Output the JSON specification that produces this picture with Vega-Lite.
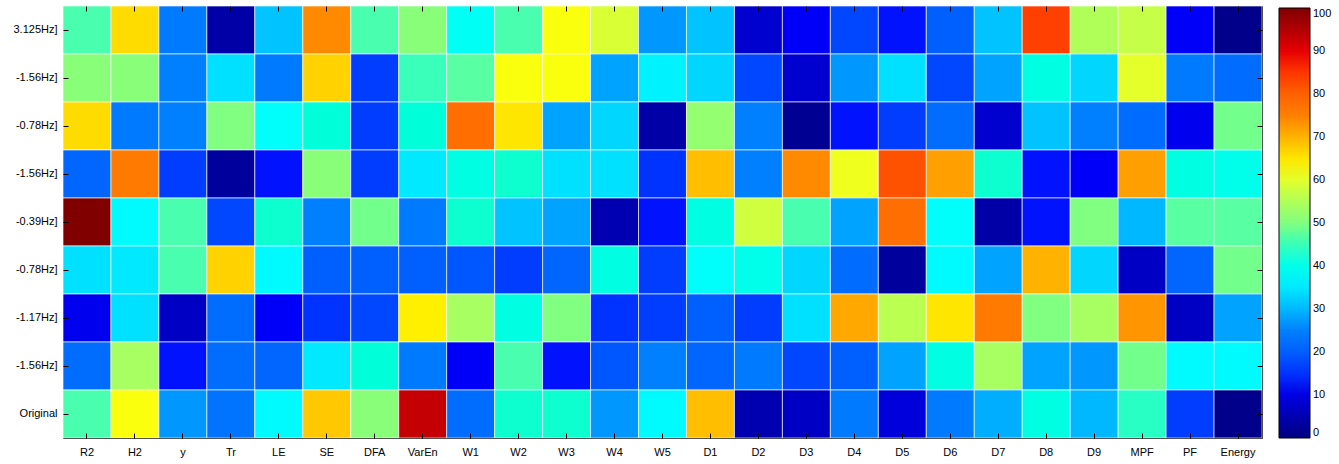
{
  "$schema": "https://vega.github.io/schema/vega-lite/v6.json",
  "width": 1199,
  "height": 432,
  "autosize": {"type": "none"},
  "padding": {"left": 63, "top": 6, "right": 77, "bottom": 26},
  "background": "white",
  "config": {
    "view": {"stroke": "black", "strokeWidth": 1},
    "font": "Liberation Sans",
    "axis": {"grid": false, "domain": false, "labelFont": "Liberation Sans", "labelFontSize": 11, "labelColor": "black", "tickColor": "black", "title": null}
  },
  "data": {
    "values": [
      {"r":1,"c":"R2","v":46},{"r":1,"c":"H2","v":66},{"r":1,"c":"y","v":24},{"r":1,"c":"Tr","v":4},{"r":1,"c":"LE","v":31},{"r":1,"c":"SE","v":74},{"r":1,"c":"DFA","v":46},{"r":1,"c":"VarEn","v":51},{"r":1,"c":"W1","v":39},{"r":1,"c":"W2","v":46},{"r":1,"c":"W3","v":62},{"r":1,"c":"W4","v":59},{"r":1,"c":"W5","v":27},{"r":1,"c":"D1","v":31},{"r":1,"c":"D2","v":8},{"r":1,"c":"D3","v":12},{"r":1,"c":"D4","v":17},{"r":1,"c":"D5","v":13},{"r":1,"c":"D6","v":20},{"r":1,"c":"D7","v":31},{"r":1,"c":"D8","v":84},{"r":1,"c":"D9","v":55},{"r":1,"c":"MPF","v":57},{"r":1,"c":"PF","v":12},{"r":1,"c":"Energy","v":1},
      {"r":2,"c":"R2","v":51},{"r":2,"c":"H2","v":51},{"r":2,"c":"y","v":25},{"r":2,"c":"Tr","v":34},{"r":2,"c":"LE","v":24},{"r":2,"c":"SE","v":67},{"r":2,"c":"DFA","v":16},{"r":2,"c":"VarEn","v":45},{"r":2,"c":"W1","v":47},{"r":2,"c":"W2","v":62},{"r":2,"c":"W3","v":62},{"r":2,"c":"W4","v":28},{"r":2,"c":"W5","v":36},{"r":2,"c":"D1","v":33},{"r":2,"c":"D2","v":17},{"r":2,"c":"D3","v":8},{"r":2,"c":"D4","v":27},{"r":2,"c":"D5","v":34},{"r":2,"c":"D6","v":17},{"r":2,"c":"D7","v":28},{"r":2,"c":"D8","v":41},{"r":2,"c":"D9","v":33},{"r":2,"c":"MPF","v":60},{"r":2,"c":"PF","v":24},{"r":2,"c":"Energy","v":22},
      {"r":3,"c":"R2","v":66},{"r":3,"c":"H2","v":24},{"r":3,"c":"y","v":25},{"r":3,"c":"Tr","v":50},{"r":3,"c":"LE","v":38},{"r":3,"c":"SE","v":42},{"r":3,"c":"DFA","v":16},{"r":3,"c":"VarEn","v":42},{"r":3,"c":"W1","v":78},{"r":3,"c":"W2","v":65},{"r":3,"c":"W3","v":28},{"r":3,"c":"W4","v":33},{"r":3,"c":"W5","v":4},{"r":3,"c":"D1","v":52},{"r":3,"c":"D2","v":25},{"r":3,"c":"D3","v":2},{"r":3,"c":"D4","v":13},{"r":3,"c":"D5","v":16},{"r":3,"c":"D6","v":22},{"r":3,"c":"D7","v":8},{"r":3,"c":"D8","v":31},{"r":3,"c":"D9","v":25},{"r":3,"c":"MPF","v":22},{"r":3,"c":"PF","v":11},{"r":3,"c":"Energy","v":49},
      {"r":4,"c":"R2","v":21},{"r":4,"c":"H2","v":76},{"r":4,"c":"y","v":16},{"r":4,"c":"Tr","v":3},{"r":4,"c":"LE","v":13},{"r":4,"c":"SE","v":51},{"r":4,"c":"DFA","v":16},{"r":4,"c":"VarEn","v":35},{"r":4,"c":"W1","v":41},{"r":4,"c":"W2","v":43},{"r":4,"c":"W3","v":34},{"r":4,"c":"W4","v":34},{"r":4,"c":"W5","v":15},{"r":4,"c":"D1","v":69},{"r":4,"c":"D2","v":25},{"r":4,"c":"D3","v":74},{"r":4,"c":"D4","v":61},{"r":4,"c":"D5","v":82},{"r":4,"c":"D6","v":72},{"r":4,"c":"D7","v":43},{"r":4,"c":"D8","v":13},{"r":4,"c":"D9","v":12},{"r":4,"c":"MPF","v":72},{"r":4,"c":"PF","v":41},{"r":4,"c":"Energy","v":40},
      {"r":5,"c":"R2","v":100},{"r":5,"c":"H2","v":37},{"r":5,"c":"y","v":46},{"r":5,"c":"Tr","v":17},{"r":5,"c":"LE","v":43},{"r":5,"c":"SE","v":25},{"r":5,"c":"DFA","v":49},{"r":5,"c":"VarEn","v":24},{"r":5,"c":"W1","v":43},{"r":5,"c":"W2","v":31},{"r":5,"c":"W3","v":28},{"r":5,"c":"W4","v":5},{"r":5,"c":"W5","v":13},{"r":5,"c":"D1","v":41},{"r":5,"c":"D2","v":58},{"r":5,"c":"D3","v":46},{"r":5,"c":"D4","v":28},{"r":5,"c":"D5","v":78},{"r":5,"c":"D6","v":38},{"r":5,"c":"D7","v":4},{"r":5,"c":"D8","v":13},{"r":5,"c":"D9","v":50},{"r":5,"c":"MPF","v":30},{"r":5,"c":"PF","v":47},{"r":5,"c":"Energy","v":47},
      {"r":6,"c":"R2","v":34},{"r":6,"c":"H2","v":35},{"r":6,"c":"y","v":46},{"r":6,"c":"Tr","v":67},{"r":6,"c":"LE","v":37},{"r":6,"c":"SE","v":20},{"r":6,"c":"DFA","v":20},{"r":6,"c":"VarEn","v":20},{"r":6,"c":"W1","v":19},{"r":6,"c":"W2","v":16},{"r":6,"c":"W3","v":21},{"r":6,"c":"W4","v":41},{"r":6,"c":"W5","v":16},{"r":6,"c":"D1","v":38},{"r":6,"c":"D2","v":40},{"r":6,"c":"D3","v":33},{"r":6,"c":"D4","v":22},{"r":6,"c":"D5","v":3},{"r":6,"c":"D6","v":37},{"r":6,"c":"D7","v":28},{"r":6,"c":"D8","v":70},{"r":6,"c":"D9","v":33},{"r":6,"c":"MPF","v":7},{"r":6,"c":"PF","v":21},{"r":6,"c":"Energy","v":49},
      {"r":7,"c":"R2","v":11},{"r":7,"c":"H2","v":34},{"r":7,"c":"y","v":7},{"r":7,"c":"Tr","v":22},{"r":7,"c":"LE","v":12},{"r":7,"c":"SE","v":15},{"r":7,"c":"DFA","v":17},{"r":7,"c":"VarEn","v":64},{"r":7,"c":"W1","v":54},{"r":7,"c":"W2","v":41},{"r":7,"c":"W3","v":50},{"r":7,"c":"W4","v":15},{"r":7,"c":"W5","v":16},{"r":7,"c":"D1","v":20},{"r":7,"c":"D2","v":16},{"r":7,"c":"D3","v":34},{"r":7,"c":"D4","v":71},{"r":7,"c":"D5","v":56},{"r":7,"c":"D6","v":65},{"r":7,"c":"D7","v":76},{"r":7,"c":"D8","v":50},{"r":7,"c":"D9","v":54},{"r":7,"c":"MPF","v":73},{"r":7,"c":"PF","v":7},{"r":7,"c":"Energy","v":28},
      {"r":8,"c":"R2","v":22},{"r":8,"c":"H2","v":54},{"r":8,"c":"y","v":13},{"r":8,"c":"Tr","v":22},{"r":8,"c":"LE","v":21},{"r":8,"c":"SE","v":35},{"r":8,"c":"DFA","v":42},{"r":8,"c":"VarEn","v":24},{"r":8,"c":"W1","v":12},{"r":8,"c":"W2","v":46},{"r":8,"c":"W3","v":13},{"r":8,"c":"W4","v":19},{"r":8,"c":"W5","v":25},{"r":8,"c":"D1","v":21},{"r":8,"c":"D2","v":24},{"r":8,"c":"D3","v":17},{"r":8,"c":"D4","v":20},{"r":8,"c":"D5","v":28},{"r":8,"c":"D6","v":41},{"r":8,"c":"D7","v":54},{"r":8,"c":"D8","v":28},{"r":8,"c":"D9","v":27},{"r":8,"c":"MPF","v":49},{"r":8,"c":"PF","v":37},{"r":8,"c":"Energy","v":37},
      {"r":9,"c":"R2","v":46},{"r":9,"c":"H2","v":62},{"r":9,"c":"y","v":27},{"r":9,"c":"Tr","v":23},{"r":9,"c":"LE","v":37},{"r":9,"c":"SE","v":68},{"r":9,"c":"DFA","v":51},{"r":9,"c":"VarEn","v":93},{"r":9,"c":"W1","v":22},{"r":9,"c":"W2","v":43},{"r":9,"c":"W3","v":43},{"r":9,"c":"W4","v":27},{"r":9,"c":"W5","v":37},{"r":9,"c":"D1","v":69},{"r":9,"c":"D2","v":5},{"r":9,"c":"D3","v":7},{"r":9,"c":"D4","v":24},{"r":9,"c":"D5","v":9},{"r":9,"c":"D6","v":24},{"r":9,"c":"D7","v":29},{"r":9,"c":"D8","v":41},{"r":9,"c":"D9","v":30},{"r":9,"c":"MPF","v":44},{"r":9,"c":"PF","v":16},{"r":9,"c":"Energy","v":1}
    ]
  },
  "layer": [
    {
      "mark": {"type": "rect", "stroke": "#ffffff", "strokeWidth": 0.8, "strokeOpacity": 0.8},
      "encoding": {
        "x": {
          "field": "c", "type": "nominal",
          "sort": ["R2","H2","y","Tr","LE","SE","DFA","VarEn","W1","W2","W3","W4","W5","D1","D2","D3","D4","D5","D6","D7","D8","D9","MPF","PF","Energy"],
          "scale": {"paddingInner": 0, "paddingOuter": 0},
          "axis": {"orient": "bottom", "labelAngle": 0, "tickSize": 5, "offset": -5, "labelPadding": 8, "zindex": 1}
        },
        "y": {
          "field": "r", "type": "ordinal",
          "scale": {"paddingInner": 0, "paddingOuter": 0},
          "axis": {"orient": "left", "tickSize": 5, "offset": -5, "labelPadding": 6, "zindex": 1,
            "labelExpr": "['', '3.125Hz]', '-1.56Hz]', '-0.78Hz]', '-1.56Hz]', '-0.39Hz]', '-0.78Hz]', '-1.17Hz]', '-1.56Hz]', 'Original'][datum.value]"}
        },
        "color": {
          "field": "v", "type": "quantitative",
          "scale": {
            "domain": [0, 12.5, 25, 37.5, 50, 62.5, 75, 87.5, 100],
            "range": ["#000080", "#0000ff", "#0080ff", "#00ffff", "#80ff80", "#ffff00", "#ff8000", "#ff0000", "#800000"]
          },
          "legend": {
            "orient": "none", "legendX": 1216, "legendY": 2,
            "direction": "vertical", "title": null,
            "gradientLength": 430, "gradientThickness": 31,
            "gradientStrokeColor": "black", "gradientStrokeWidth": 1,
            "values": [0, 10, 20, 30, 40, 50, 60, 70, 80, 90, 100],
            "labelFont": "Liberation Sans", "labelFontSize": 11, "labelColor": "black", "labelOffset": 3
          }
        }
      }
    },
    {
      "mark": {"type": "rect", "opacity": 0},
      "encoding": {
        "x": {
          "field": "c", "type": "nominal",
          "sort": ["R2","H2","y","Tr","LE","SE","DFA","VarEn","W1","W2","W3","W4","W5","D1","D2","D3","D4","D5","D6","D7","D8","D9","MPF","PF","Energy"],
          "axis": {"orient": "top", "labels": false, "tickSize": 5, "offset": -5, "zindex": 1}
        },
        "y": {
          "field": "r", "type": "ordinal",
          "axis": {"orient": "right", "labels": false, "tickSize": 5, "offset": -5, "zindex": 1}
        }
      }
    }
  ],
  "resolve": {"axis": {"x": "independent", "y": "independent"}}
}
